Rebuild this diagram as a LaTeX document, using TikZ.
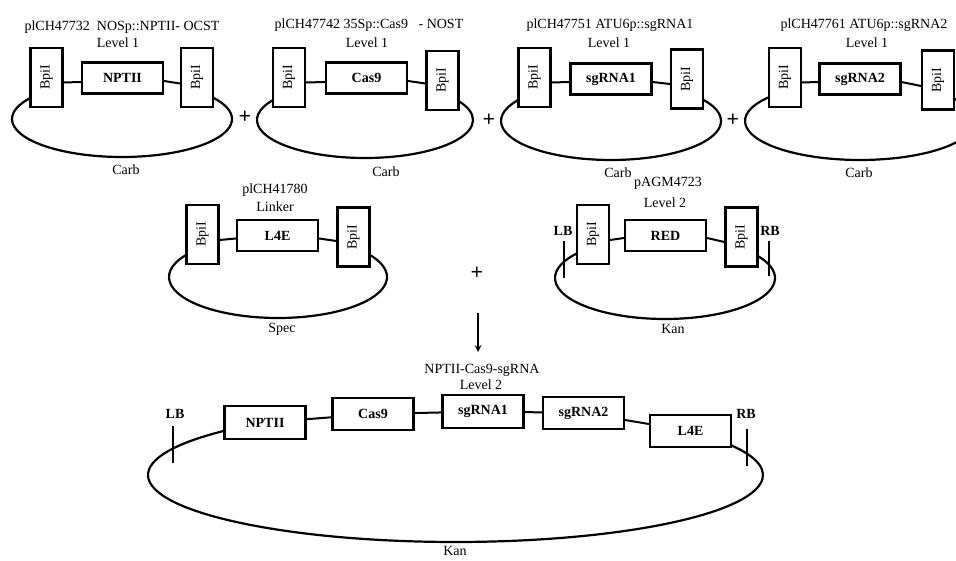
\documentclass[tikz,border=0pt]{standalone}
\usepackage{fontspec}
\setmainfont{Liberation Serif}
\usetikzlibrary{arrows, positioning}

\begin{document}
\begin{tikzpicture}[x=1pt, y=-1pt, font=\fontsize{14}{16}\selectfont]
    \tikzstyle{site} = [rectangle, draw=black, line width=2.2pt, minimum width=32pt, minimum height=59pt, inner sep=0pt, fill=white]
    \tikzstyle{gene} = [rectangle, draw=black, line width=2.2pt, minimum width=81pt, minimum height=31pt, inner sep=0pt, fill=white, font=\fontsize{14}{16}\selectfont\bfseries]
    \tikzstyle{link} = [line width=2pt]
    \tikzstyle{ring} = [line width=2.2pt]
    \tikzstyle{border} = [line width=2pt]
    \tikzstyle{edge} = [font=\fontsize{14}{16}\selectfont\bfseries]
    \tikzstyle{plus} = [font=\fontsize{22}{22}\selectfont\bfseries]
    \tikzstyle{arrow} = [line width=2pt,->,>=stealth]

    \useasboundingbox (0,0) rectangle (956,561);

    \node (t1) at (122,27) {plCH47732\ \ NOSp::NPTII- OCST};
    \node (v1) at (118,43) {Level 1};
    \node (a1) [site] at (46.5,77.5) {\rotatebox{90}{BpiI}};
    \node (g1) [gene] at (122.5,78) {NPTII};
    \node (b1) [site] at (197,77.5) {\rotatebox{90}{BpiI}};
    \node (r1) at (126,170) {Carb};
    \draw [link] ([yshift=-5pt]a1.east) -- ([yshift=-4pt]g1.west);
    \draw [link] ([yshift=-3pt]g1.east) -- ([yshift=-6pt]b1.west);
    \draw [ring] (122,119) ++(213.3:110 and 38) arc[start angle=213.3, end angle=-34.2, x radius=110, y radius=38];

    \node (p1) [plus] at (245,117) {+};

    \node (t2) at (369,25) {plCH47742 35Sp::Cas9\ \ \ - NOST};
    \node (v2) at (367,43) {Level 1};
    \node (a2) [site] at (289,77.5) {\rotatebox{90}{BpiI}};
    \node (g2) [gene] at (366.5,78) {Cas9};
    \node (b2) [site] at (442.5,80.5) {\rotatebox{90}{BpiI}};
    \node (r2) at (386,172) {Carb};
    \draw [link] ([yshift=-5pt]a2.east) -- ([yshift=-4pt]g2.west);
    \draw [link] ([yshift=-3pt]g2.east) -- ([yshift=-3pt]b2.west);
    \draw [ring] (365,120) ++(211.6:108 and 38) arc[start angle=211.6, end angle=-30.6, x radius=108, y radius=38];

    \node (p2) [plus] at (489,120) {+};

    \node (t3) at (610,25) {plCH47751 ATU6p::sgRNA1};
    \node (v3) at (609,43) {Level 1};
    \node (a3) [site] at (534.5,77.5) {\rotatebox{90}{BpiI}};
    \node (g3) [gene] at (611,79) {sgRNA1};
    \node (b3) [site] at (687,79) {\rotatebox{90}{BpiI}};
    \node (r3) at (618,173) {Carb};
    \draw [link] ([yshift=-5pt]a3.east) -- ([yshift=-3pt]g3.west);
    \draw [link] ([yshift=-3pt]g3.east) -- ([yshift=-5pt]b3.west);
    \draw [ring] (611,121) ++(212.3:110 and 39) arc[start angle=212.3, end angle=-33.3, x radius=110, y radius=39];

    \node (p3) [plus] at (733,120) {+};

    \node (t4) at (864,25) {plCH47761 ATU6p::sgRNA2};
    \node (v4) at (867,43) {Level 1};
    \node (a4) [site] at (785,77.5) {\rotatebox{90}{BpiI}};
    \node (g4) [gene] at (860,79) {sgRNA2};
    \node (b4) [site] at (938,80) {\rotatebox{90}{BpiI}};
    \node (r4) at (859,173) {Carb};
    \draw [link] ([yshift=-5pt]a4.east) -- ([yshift=-3pt]g4.west);
    \draw [link] ([yshift=-3pt]g4.east) -- ([yshift=-6pt]b4.west);
    \draw [ring] (860,121) ++(217.7:115 and 39) arc[start angle=217.7, end angle=-36, x radius=115, y radius=39];

    \node (t5) at (275,190) {plCH41780};
    \node (v5) at (275,207) {Linker};
    \node (a5) [site] at (202.5,234.5) {\rotatebox{90}{BpiI}};
    \node (g5) [gene] at (277.5,235.5) {L4E};
    \node (b5) [site] at (353.5,237) {\rotatebox{90}{BpiI}};
    \node (r5) at (282,329) {Spec};
    \draw [link] ([yshift=-5.5pt]a5.east) -- ([yshift=-3pt]g5.west);
    \draw [link] ([yshift=-3pt]g5.east) -- ([yshift=-4pt]b5.west);
    \draw [ring] (278,277) ++(212.4:109 and 41) arc[start angle=212.4, end angle=-32.4, x radius=109, y radius=41];

    \node (p4) [plus] at (477,273) {+};

    \node (t6) at (668,183) {pAGM4723};
    \node (v6) at (665,203) {Level 2};
    \node (a6) [site] at (593,234.5) {\rotatebox{90}{BpiI}};
    \node (g6) [gene] at (665.5,235.5) {RED};
    \node (b6) [site] at (741.5,237) {\rotatebox{90}{BpiI}};
    \node (r6) at (673,329) {Kan};
    \node (lb6) [edge] at (563,231) {LB};
    \node (rb6) [edge] at (770,231) {RB};
    \draw [link] ([yshift=-5.5pt]a6.east) -- ([yshift=-2.5pt]g6.west);
    \draw [link] ([yshift=-2.5pt]g6.east) -- ([yshift=-5pt]b6.west);
    \draw [ring] (665,278) ++(216.9:110 and 41) arc[start angle=216.9, end angle=-33.3, x radius=110, y radius=41];
    \draw [border] (lb6.south) ++(1,2) -- ++(0,37);
    \draw [border] (rb6.south) ++(-1,2) -- ++(0,35);

    \coordinate (from) at (478,313);
    \coordinate (to) at (478,352);
    \draw [arrow] (from) -- (to);

    \node (t7) at (482,370) {NPTII-Cas9-sgRNA};
    \node (v7) at (481,385) {Level 2};
    \node (n1) [gene, minimum height=33pt] at (265,422.5) {NPTII};
    \node (n2) [gene, minimum height=32pt] at (373,414) {Cas9};
    \node (n3) [gene, minimum height=33pt] at (483,411.5) {sgRNA1};
    \node (n4) [gene, minimum height=32pt] at (583.5,413) {sgRNA2};
    \node (n5) [gene, minimum height=32pt] at (690.5,431) {L4E};
    \node (r7) at (455,551) {Kan};
    \node (lb7) [edge] at (175,414) {LB};
    \node (rb7) [edge] at (746,414) {RB};
    \draw [link] (n1) -- (n2);
    \draw [link] (n2) -- (n3);
    \draw [link] (n3) -- (n4);
    \draw [link] (n4) -- (n5);
    \draw [ring] (455.5,475) ++(221.2:307.5 and 67) arc[start angle=221.2, end angle=-26.4, x radius=307.5, y radius=67];
    \draw [border] (lb7.south) ++(-2,4) -- ++(0,37);
    \draw [border] (rb7.south) ++(1,7) -- ++(0,37);
\end{tikzpicture}
\end{document}
